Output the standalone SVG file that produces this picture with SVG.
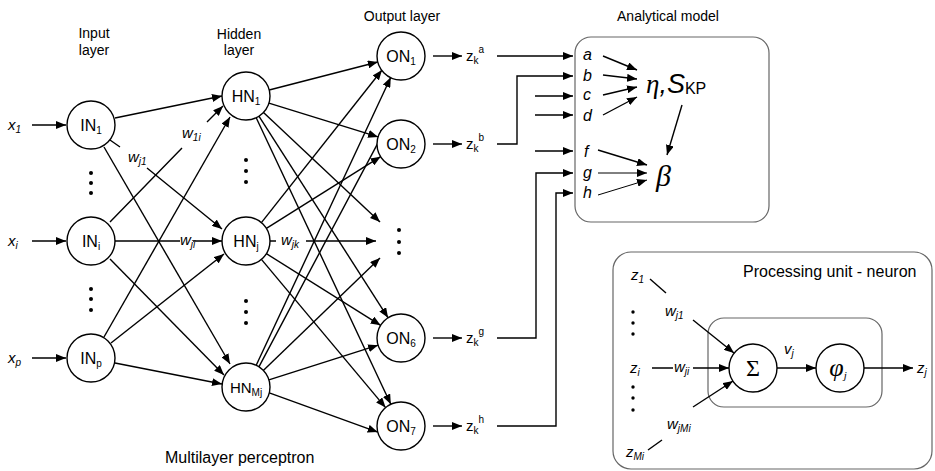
<svg xmlns="http://www.w3.org/2000/svg" width="935" height="471" viewBox="0 0 935 471">
<style>
text{font-family:"Liberation Sans",Arial,sans-serif;fill:#000}
.node circle{fill:#fff;stroke:#000;stroke-width:1.4}
.lbl{font-size:16px;text-anchor:middle}
.sub{font-size:10px}
.it{font-style:italic}
.w{font-size:15px;font-style:italic}
.c line,.c path{stroke:#000;stroke-width:1.4;fill:none}
.a{marker-end:url(#ar)}
.box{fill:none;stroke:#666;stroke-width:1.2}
.dot{fill:#000}
.t14{font-size:14px;text-anchor:middle}
.serif{font-family:"Liberation Serif","Times New Roman",serif}
</style>
<defs>
<marker id="ar" viewBox="0 0 10 8" refX="10" refY="4" markerWidth="10" markerHeight="8" markerUnits="userSpaceOnUse" orient="auto"><path d="M0,0 L10,4 L0,8 z" fill="#000"/></marker>
</defs>

<!-- titles -->
<text class="t14" x="94" y="38">Input</text>
<text class="t14" x="94" y="55">layer</text>
<text class="t14" x="239" y="39">Hidden</text>
<text class="t14" x="239" y="55">layer</text>
<text class="t14" x="402" y="21">Output layer</text>
<text class="t14" x="668" y="21">Analytical model</text>
<text x="165" y="463" font-size="16">Multilayer perceptron</text>

<!-- boxes -->
<rect id="analytical-box" class="box" x="575" y="37" width="194" height="185" rx="16"/>
<rect id="processing-box" class="box" x="613" y="252" width="319" height="217" rx="18"/>
<rect id="neuron-box" class="box" x="708" y="318" width="174" height="89" rx="16"/>

<!-- connectors -->
<g id="connectors" class="c">
<line class="a" x1="32" y1="125" x2="66" y2="125"/>
<line class="a" x1="32" y1="241" x2="66" y2="241"/>
<line class="a" x1="32" y1="358" x2="66" y2="358"/>
<line class="a" x1="115" y1="118" x2="222" y2="96"/>
<path class="a" d="M110,140 L120,147 M147,168 L222,229"/>
<line class="a" x1="104" y1="147" x2="230" y2="364"/>
<path class="a" d="M110,222 L182,148 M207,122 L223,106"/>
<path class="a" d="M115,241 L180,241 M193,241 L222,241"/>
<line class="a" x1="110" y1="259" x2="224" y2="375"/>
<line class="a" x1="104" y1="337" x2="230" y2="117"/>
<line class="a" x1="111" y1="343" x2="224" y2="254"/>
<line class="a" x1="115" y1="363" x2="222" y2="384"/>
<line class="a" x1="269.2" y1="90" x2="377.8" y2="62"/>
<line class="a" x1="268.9" y1="103.1" x2="378.1" y2="136.9"/>
<line class="a" x1="263.5" y1="112.4" x2="380" y2="222"/>
<line class="a" x1="258.9" y1="116.2" x2="388.1" y2="317.8"/>
<line class="a" x1="256.2" y1="117.7" x2="390.8" y2="404.3"/>
<line class="a" x1="261.4" y1="222.6" x2="382" y2="70"/>
<line class="a" x1="266.4" y1="228.3" x2="380.6" y2="156.7"/>
<path class="a" d="M270,241 L276,241 M306,241 L376,241"/>
<line class="a" x1="266.4" y1="253.7" x2="380.6" y2="325.3"/>
<line class="a" x1="261.4" y1="259.4" x2="385.6" y2="407.6"/>
<line class="a" x1="256.2" y1="365.3" x2="390.8" y2="77.3"/>
<line class="a" x1="258.9" y1="366.8" x2="388.1" y2="123.8"/>
<line class="a" x1="263.3" y1="370.4" x2="380" y2="258"/>
<line class="a" x1="268.9" y1="379.8" x2="378.1" y2="345.2"/>
<line class="a" x1="269.3" y1="392.9" x2="377.7" y2="432.1"/>
<line class="a" x1="433" y1="56" x2="462" y2="56"/>
<line class="a" x1="433" y1="144" x2="462" y2="144"/>
<line class="a" x1="433" y1="338" x2="462" y2="338"/>
<line class="a" x1="433" y1="426" x2="462" y2="426"/>
<path class="a" d="M497,56 L573,56"/>
<path class="a" d="M497,144 L517,144 L517,76 L573,76"/>
<path class="a" d="M535,96 L573,96"/>
<path class="a" d="M535,115 L573,115"/>
<path class="a" d="M535,151 L573,151"/>
<path class="a" d="M497,338 L536,338 L536,173 L573,173"/>
<path class="a" d="M497,426 L556,426 L556,193 L573,193"/>
<line class="a" x1="603" y1="56" x2="637" y2="70"/>
<line class="a" x1="603" y1="75" x2="637" y2="79"/>
<line class="a" x1="603" y1="95" x2="637" y2="87"/>
<line class="a" x1="603" y1="115" x2="637" y2="97"/>
<line class="a" x1="682" y1="105" x2="667" y2="155"/>
<line class="a" x1="598" y1="150" x2="647" y2="165"/>
<line class="a" x1="598" y1="173" x2="647" y2="173" style="stroke-width:1"/>
<line class="a" x1="598" y1="195" x2="647" y2="180" style="stroke-width:1"/>
<line x1="650" y1="279" x2="666" y2="293"/>
<line class="a" x1="693" y1="320" x2="734" y2="353"/>
<path class="a" d="M652,368 L673,368 M693,368 L729,368"/>
<line class="a" x1="693" y1="407" x2="733" y2="381"/>
<line x1="648" y1="450" x2="662" y2="440"/>
<line class="a" x1="777" y1="368" x2="816" y2="368"/>
<line class="a" x1="864" y1="368" x2="913" y2="368"/>
</g>

<!-- dots -->
<g id="dots" class="dot">
<circle cx="91" cy="173" r="2"/><circle cx="91" cy="183" r="2"/><circle cx="91" cy="193" r="2"/>
<circle cx="91" cy="289" r="2"/><circle cx="91" cy="299" r="2"/><circle cx="91" cy="310" r="2"/>
<circle cx="246" cy="160" r="2"/><circle cx="246" cy="171" r="2"/><circle cx="246" cy="182" r="2"/>
<circle cx="246" cy="301" r="2"/><circle cx="246" cy="312" r="2"/><circle cx="246" cy="323" r="2"/>
<circle cx="399" cy="230" r="2"/><circle cx="399" cy="242" r="2"/><circle cx="399" cy="253" r="2"/>
<circle cx="633" cy="312" r="1.7"/><circle cx="633" cy="323" r="1.7"/><circle cx="633" cy="334" r="1.7"/>
<circle cx="633" cy="387" r="1.7"/><circle cx="633" cy="398" r="1.7"/><circle cx="633" cy="410" r="1.7"/>
</g>

<!-- input labels -->
<text class="w" x="8" y="130">x<tspan class="sub" dy="3">1</tspan></text>
<text class="w" x="8" y="246">x<tspan class="sub" dy="3">i</tspan></text>
<text class="w" x="8" y="363">x<tspan class="sub" dy="3">p</tspan></text>

<!-- weight labels -->
<text class="w" x="128" y="162">w<tspan class="sub" dy="3">j1</tspan></text>
<text class="w" x="182" y="138">w<tspan class="sub" dy="3">1i</tspan></text>
<text class="w" x="180" y="245">w<tspan class="sub" dy="3">ji</tspan></text>
<text class="w" x="281" y="245">w<tspan class="sub" dy="3">jk</tspan></text>

<!-- nodes -->
<g id="IN1" class="node"><circle cx="91" cy="125" r="24"/><text class="lbl" x="91" y="131">IN<tspan class="sub" dy="3">1</tspan></text></g>
<g id="INi" class="node"><circle cx="91" cy="241" r="24"/><text class="lbl" x="91" y="247">IN<tspan class="sub" dy="3">i</tspan></text></g>
<g id="INp" class="node"><circle cx="91" cy="358" r="24"/><text class="lbl" x="91" y="364">IN<tspan class="sub" dy="3">p</tspan></text></g>
<g id="HN1" class="node"><circle cx="246" cy="96" r="24"/><text class="lbl" x="246" y="102">HN<tspan class="sub" dy="3">1</tspan></text></g>
<g id="HNj" class="node"><circle cx="246" cy="241" r="24"/><text class="lbl" x="246" y="247">HN<tspan class="sub" dy="3">j</tspan></text></g>
<g id="HNMj" class="node"><circle cx="246" cy="387" r="24"/><text class="lbl" x="246" y="393" style="font-size:15px">HN<tspan class="sub" dy="3">Mj</tspan></text></g>
<g id="ON1" class="node"><circle cx="401" cy="56" r="24"/><text class="lbl" x="401" y="62">ON<tspan class="sub" dy="3">1</tspan></text></g>
<g id="ON2" class="node"><circle cx="401" cy="144" r="24"/><text class="lbl" x="401" y="150">ON<tspan class="sub" dy="3">2</tspan></text></g>
<g id="ON6" class="node"><circle cx="401" cy="338" r="24"/><text class="lbl" x="401" y="344">ON<tspan class="sub" dy="3">6</tspan></text></g>
<g id="ON7" class="node"><circle cx="401" cy="426" r="24"/><text class="lbl" x="401" y="432">ON<tspan class="sub" dy="3">7</tspan></text></g>

<!-- z outputs -->
<text x="466" y="61" font-size="15">z<tspan class="sub" dy="3">k</tspan><tspan class="sub" dy="-11">a</tspan></text>
<text x="466" y="149" font-size="15">z<tspan class="sub" dy="3">k</tspan><tspan class="sub" dy="-11">b</tspan></text>
<text x="466" y="343" font-size="15">z<tspan class="sub" dy="3">k</tspan><tspan class="sub" dy="-11">g</tspan></text>
<text x="466" y="431" font-size="15">z<tspan class="sub" dy="3">k</tspan><tspan class="sub" dy="-11">h</tspan></text>

<!-- analytical model texts -->
<g id="analytical-model" class="it" font-size="16">
<text x="583" y="60">a</text>
<text x="583" y="81">b</text>
<text x="583" y="100">c</text>
<text x="583" y="121">d</text>
<text x="584" y="157">f</text>
<text x="583" y="178">g</text>
<text x="583" y="198">h</text>
<text x="646" y="93" font-size="27"><tspan class="serif">η</tspan>,S<tspan font-size="16" font-style="normal" dy="1">KP</tspan></text>
<text x="656" y="186" font-size="30" class="serif">β</text>
</g>

<!-- processing unit -->
<text x="743" y="277" font-size="16">Processing unit - neuron</text>
<text class="w" x="631" y="280">z<tspan class="sub" dy="3">1</tspan></text>
<text class="w" x="665" y="316">w<tspan class="sub" dy="3">j1</tspan></text>
<text class="w" x="630" y="373">z<tspan class="sub" dy="3">i</tspan></text>
<text class="w" x="674" y="372">w<tspan class="sub" dy="3">ji</tspan></text>
<text class="w" x="667" y="429">w<tspan class="sub" dy="3">jMi</tspan></text>
<text class="w" x="626" y="457">z<tspan class="sub" dy="3">Mi</tspan></text>
<text class="w" x="784" y="354">v<tspan class="sub" dy="3">j</tspan></text>
<text class="w" x="917" y="373">z<tspan class="sub" dy="3">j</tspan></text>
<g id="sum" class="node"><circle cx="753" cy="368" r="24"/><text x="753" y="376" font-size="24" text-anchor="middle" class="serif">Σ</text></g>
<g id="phi" class="node"><circle cx="840" cy="368" r="24"/><text x="838" y="376" font-size="26" text-anchor="middle" font-style="italic" class="serif">φ<tspan font-size="11" dy="3">j</tspan></text></g>
</svg>
